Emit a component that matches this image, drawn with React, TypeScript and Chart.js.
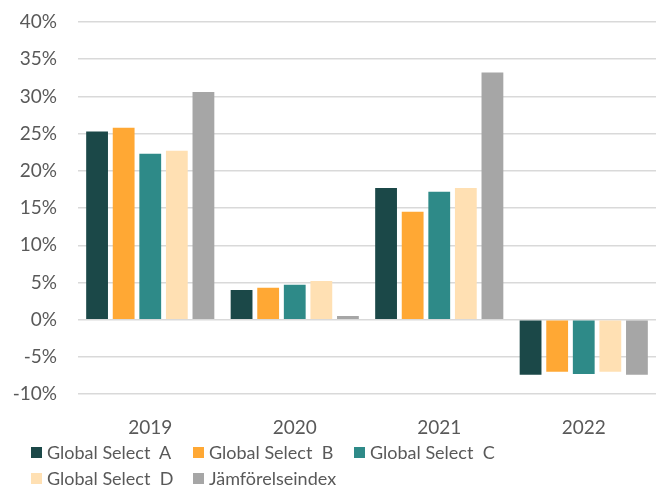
import React, { useEffect, useRef } from "react";
import { Chart, registerables } from "chart.js";

Chart.register(...registerables);

const categories = ["2019", "2020", "2021", "2022"];
const seriesNames = ["Global Select  A", "Global Select  B", "Global Select  C", "Global Select  D", "Jämförelseindex"];
const seriesA = [25.3, 4.0, 17.7, -7.4];
const seriesB = [25.8, 4.3, 14.5, -7.0];
const seriesC = [22.3, 4.7, 17.2, -7.3];
const seriesD = [22.7, 5.2, 17.7, -7.0];
const seriesIndex = [30.6, 0.5, 33.2, -7.4];
const colors = ["#1B4848", "#FFA834", "#2E8A88", "#FFE0B3", "#A6A6A6"];
const yMin = -10;
const yMax = 40;
const yStep = 5;

const FONT = "Lato, 'Open Sans', sans-serif";
const TEXT = "#595959";

export default function App() {
  const ref = useRef<HTMLCanvasElement | null>(null);

  useEffect(() => {
    if (!ref.current) return;
    const values = [seriesA, seriesB, seriesC, seriesD, seriesIndex];
    const chart = new Chart(ref.current, {
      type: "bar",
      data: {
        labels: categories,
        datasets: values.map((v, i) => ({
          label: seriesNames[i],
          data: v,
          backgroundColor: colors[i],
          categoryPercentage: 0.92,
          barPercentage: 0.82,
        })),
      },
      options: {
        animation: false,
        responsive: false,
        layout: { padding: { left: 5, right: 0, top: 22, bottom: 25 } },
        plugins: {
          legend: { display: false },
          tooltip: { enabled: false },
        },
        scales: {
          x: {
            grid: { display: false, drawTicks: false },
            border: { display: false },
            ticks: { color: TEXT, font: { family: FONT, size: 19 }, padding: 22 },
          },
          y: {
            min: yMin,
            max: yMax,
            afterFit: (s: any) => {
              s.width = 73;
              s.paddingTop = 0;
              s.paddingBottom = 0;
            },
            ticks: {
              stepSize: yStep,
              color: TEXT,
              font: { family: FONT, size: 19 },
              padding: 21,
              callback: (v: any) => v + "%",
            },
            grid: { color: "#D9D9D9", lineWidth: 1.5, drawTicks: false },
            border: { display: false },
          },
        },
      },
    });
    return () => chart.destroy();
  }, []);

  const legendItem = (i: number) => (
    <div key={i} style={{ display: "flex", alignItems: "center", height: 26 }}>
      <span style={{ width: 11, height: 11, background: colors[i], marginRight: 5, display: "inline-block" }} />
      <span style={{ fontFamily: FONT, fontSize: 18, color: TEXT, whiteSpace: "pre" }}>{seriesNames[i]}</span>
    </div>
  );

  return (
    <div style={{ position: "fixed", left: 0, top: 0, width: 656, height: 486, background: "#fff" }}>
      <canvas ref={ref} width={656} height={486} style={{ position: "absolute", left: 0, top: 0 }} />
      <div
        style={{
          position: "absolute",
          left: 31,
          top: 439,
          display: "grid",
          gridTemplateColumns: "162px 161px 162px",
        }}
      >
        {seriesNames.map((_, i) => legendItem(i))}
      </div>
    </div>
  );
}
